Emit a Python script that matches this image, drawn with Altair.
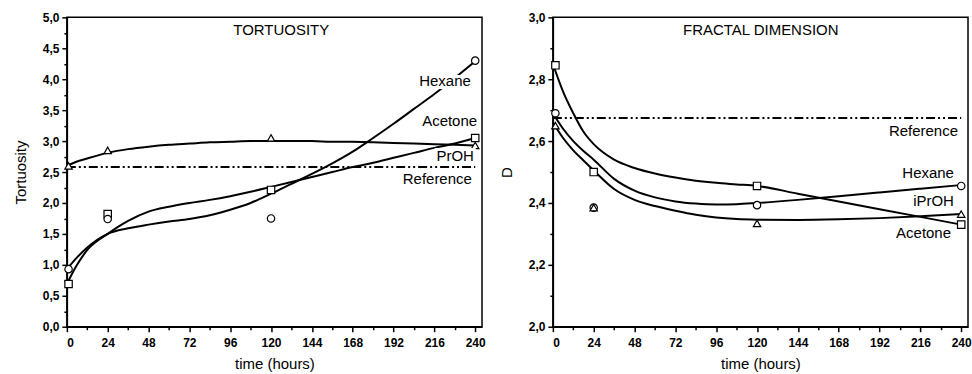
import altair as alt
import pandas as pd

# ---------------- data: TORTUOSITY panel ----------------
tort_curve_hours = [0, 6, 12, 24, 36, 48, 60, 72, 84, 96, 108, 120, 132, 144, 156, 168, 180, 192, 204, 216, 228, 240]
tort_curve_acetone = [0.69, 1.00, 1.24, 1.50, 1.71, 1.86, 1.94, 2.00, 2.05, 2.11, 2.18, 2.26, 2.34, 2.42, 2.50, 2.58, 2.65, 2.73, 2.81, 2.89, 2.96, 3.05]
tort_curve_hexane = [0.93, 1.12, 1.28, 1.50, 1.59, 1.65, 1.70, 1.74, 1.80, 1.89, 2.00, 2.15, 2.31, 2.47, 2.64, 2.83, 3.05, 3.28, 3.52, 3.76, 4.02, 4.29]
tort_curve_proh = [2.60, 2.67, 2.72, 2.81, 2.87, 2.91, 2.94, 2.96, 2.98, 2.99, 3.00, 3.00, 3.00, 3.00, 2.99, 2.99, 2.98, 2.97, 2.96, 2.95, 2.94, 2.93]

tort_pt_hours = [1, 24, 120, 240]
tort_pt_acetone = [0.69, 1.82, 2.21, 3.05]
tort_pt_hexane = [0.93, 1.74, 1.75, 4.30]
tort_pt_proh = [2.60, 2.85, 3.05, 2.93]
tort_reference = 2.58

# ---------------- data: FRACTAL DIMENSION panel ----------------
frac_curve_hours = [0, 6, 12, 18, 24, 36, 48, 60, 72, 84, 96, 108, 120, 144, 168, 192, 216, 240]
frac_curve_acetone = [2.85, 2.76, 2.69, 2.63, 2.59, 2.54, 2.513, 2.495, 2.482, 2.472, 2.465, 2.46, 2.455, 2.43, 2.405, 2.38, 2.355, 2.33]
frac_curve_hexane = [2.69, 2.64, 2.60, 2.568, 2.54, 2.478, 2.44, 2.418, 2.405, 2.398, 2.395, 2.396, 2.40, 2.41, 2.422, 2.434, 2.446, 2.458]
frac_curve_iproh = [2.66, 2.61, 2.57, 2.537, 2.505, 2.445, 2.41, 2.39, 2.375, 2.362, 2.353, 2.348, 2.346, 2.345, 2.347, 2.351, 2.357, 2.364]

frac_pt_hours = [1.5, 24, 120, 240]
frac_pt_acetone = [2.845, 2.50, 2.455, 2.33]
frac_pt_hexane = [2.69, 2.385, 2.393, 2.455]
frac_pt_iproh = [2.65, 2.385, 2.334, 2.364]
frac_reference = 2.675

# ---------------- annotations ----------------
tort_label_text = ["Hexane", "Acetone", "PrOH", "Reference"]
tort_label_x = [237.4, 241.1, 239.2, 238.0]
tort_label_y = [3.97, 3.32, 2.76, 2.39]
frac_label_text = ["Reference", "Hexane", "iPrOH", "Acetone"]
frac_label_x = [238.1, 235.7, 235.7, 234.0]
frac_label_y = [2.634, 2.498, 2.406, 2.304]

FONT = "Liberation Sans"
SHAPES = alt.Scale(domain=["Acetone", "Hexane", "PrOH"],
                   range=["square", "circle", "triangle-up"])


def long_df(hours, series):
    rows = []
    for name, vals in series.items():
        for h, v in zip(hours, vals):
            rows.append({"hours": h, "value": v, "series": name})
    return pd.DataFrame(rows)


def make_panel(curve_df, pt_df, ref_val, lab_df, title_text, title_x, title_y,
               ydomain, ytest, ytitle, yvalues):
    xscale = alt.Scale(domain=[0, 244], nice=False, zero=False)
    yscale = alt.Scale(domain=ydomain, nice=False, zero=False)
    xaxis = alt.Axis(
        values=list(range(0, 241, 12)),
        tickSize={"condition": {"test": "datum.value % 24 === 0", "value": 5}, "value": 3},
        labelExpr="datum.value % 24 === 0 ? datum.label : ''",
        labelOverlap=False, labelPadding=6, title="time (hours)", titlePadding=8,
    )
    yaxis = alt.Axis(
        values=yvalues,
        tickSize={"condition": {"test": ytest, "value": 5}, "value": 3},
        labelExpr=f"({ytest}) ? replace(format(datum.value, '.1f'), '.', ',') : ''",
        labelOverlap=False, labelPadding=3, title=ytitle, titlePadding=14,
    )
    x = alt.X("hours:Q", scale=xscale, axis=xaxis)
    y = alt.Y("value:Q", scale=yscale, axis=yaxis)

    lines = alt.Chart(curve_df).mark_line(
        interpolate="monotone", color="black", strokeWidth=2
    ).encode(x=x, y=y, detail="series:N")

    ref_df = pd.DataFrame({"hours": [0, 240], "value": [ref_val, ref_val]})
    ref = alt.Chart(ref_df).mark_line(
        color="black", strokeWidth=2, strokeDash=[9, 3, 2, 3, 2, 3]
    ).encode(x=x, y=y)

    pts = alt.Chart(pt_df).mark_point(
        filled=False, fill="white", fillOpacity=1, stroke="black", strokeWidth=1.2, size=55, opacity=1
    ).encode(
        x=x, y=y,
        shape=alt.Shape("series:N", scale=SHAPES, legend=None),
    )

    halo = alt.Chart(lab_df).mark_text(
        align="right", baseline="middle", font=FONT, fontSize=15,
        stroke="white", strokeWidth=6, color="white"
    ).encode(x=x, y=y, text="label:N")
    txt = alt.Chart(lab_df).mark_text(
        align="right", baseline="middle", font=FONT, fontSize=15, color="black"
    ).encode(x=x, y=y, text="label:N")

    title_df = pd.DataFrame({"hours": [title_x], "value": [title_y], "label": [title_text]})
    ttl = alt.Chart(title_df).mark_text(
        align="center", baseline="middle", font=FONT, fontSize=15, color="black"
    ).encode(x=x, y=y, text="label:N")

    return alt.layer(lines, ref, pts, halo, txt, ttl).properties(width=416, height=310)


tort_curves = long_df(tort_curve_hours, {"Acetone": tort_curve_acetone,
                                         "Hexane": tort_curve_hexane,
                                         "PrOH": tort_curve_proh})
tort_pts = long_df(tort_pt_hours, {"Acetone": tort_pt_acetone,
                                   "Hexane": tort_pt_hexane,
                                   "PrOH": tort_pt_proh})
frac_curves = long_df(frac_curve_hours, {"Acetone": frac_curve_acetone,
                                         "Hexane": frac_curve_hexane,
                                         "PrOH": frac_curve_iproh})
frac_pts = long_df(frac_pt_hours, {"Acetone": frac_pt_acetone,
                                   "Hexane": frac_pt_hexane,
                                   "PrOH": frac_pt_iproh})
tort_labels = pd.DataFrame({"label": tort_label_text, "hours": tort_label_x, "value": tort_label_y})
frac_labels = pd.DataFrame({"label": frac_label_text, "hours": frac_label_x, "value": frac_label_y})

left = make_panel(tort_curves, tort_pts, tort_reference, tort_labels, "TORTUOSITY", 126.0, 4.79,
                  [0, 5], "(datum.value * 4) % 2 === 0", "Tortuosity", [i * 0.25 for i in range(21)])
right = make_panel(frac_curves, frac_pts, frac_reference, frac_labels, "FRACTAL DIMENSION", 122.2, 2.958,
                   [2, 3], "abs(datum.value*5 - round(datum.value*5)) < 0.001", "D",
                   [round(2 + i * 0.1, 2) for i in range(11)])

chart = alt.hconcat(left, right, spacing=12).configure(
    padding={"left": 12, "top": 10, "right": 0, "bottom": 0},
    background="white",
).configure_view(
    stroke="black", strokeWidth=1.5
).configure_axis(
    domainColor="black", domainWidth=1.5, tickColor="black", tickWidth=1.5,
    labelFont=FONT, labelFontWeight="bold", labelFontSize=12, labelColor="black",
    titleFont=FONT, titleFontSize=15, titleFontWeight="normal", titleColor="black",
    grid=False, labelOverlap=False,
)

chart.save("out.html", embed_options={"renderer": "svg", "actions": False})
